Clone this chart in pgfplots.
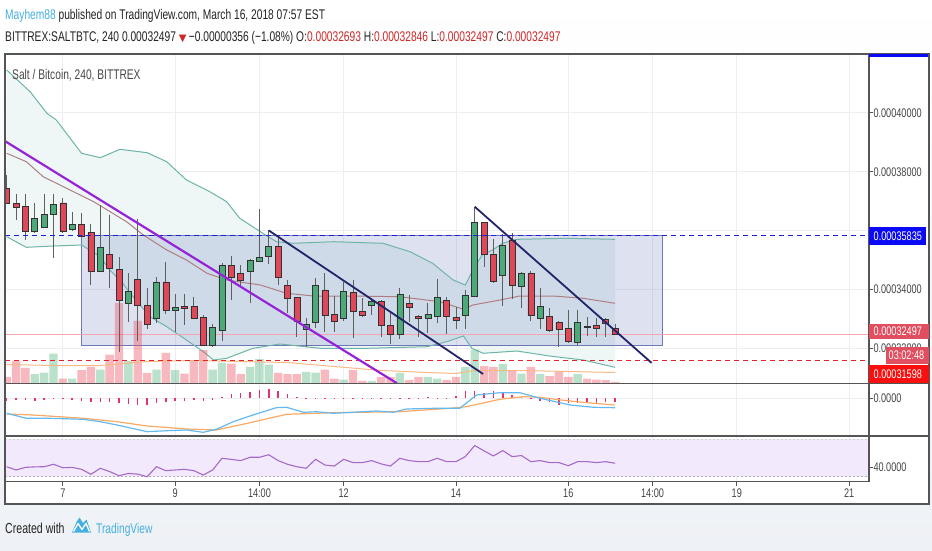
\documentclass[border=0pt]{standalone}
\usepackage{pgfplots}
\pgfplotsset{compat=1.18}
\usepackage{pgfplotstable}
\usepackage{fontspec}
\setmainfont[FakeStretch=0.73]{Liberation Sans}
\newfontfamily\symfont{DejaVu Sans}

\definecolor{bgc}{RGB}{238,241,245}
\definecolor{linec}{RGB}{85,85,85}
\definecolor{gridc}{RGB}{236,238,242}
\definecolor{tickc}{RGB}{70,70,70}
\definecolor{bandfill}{RGB}{238,247,245}
\definecolor{bandline}{RGB}{110,180,168}
\definecolor{midline}{RGB}{175,125,130}
\definecolor{rectc}{RGB}{60,80,170}
\definecolor{rectline}{RGB}{110,120,185}
\definecolor{upc}{RGB}{75,170,120}
\definecolor{downc}{RGB}{222,72,88}
\definecolor{bodyline}{RGB}{50,50,50}
\definecolor{wickc}{RGB}{95,95,95}
\definecolor{volup}{RGB}{80,180,125}
\definecolor{voldown}{RGB}{235,80,95}
\definecolor{volma}{RGB}{250,185,130}
\definecolor{purplec}{RGB}{150,35,215}
\definecolor{navyc}{RGB}{35,35,105}
\definecolor{bluedash}{RGB}{30,30,215}
\definecolor{reddash}{RGB}{225,35,45}
\definecolor{pricepink}{RGB}{245,165,175}
\definecolor{macdc}{RGB}{100,185,240}
\definecolor{signalc}{RGB}{250,170,100}
\definecolor{histc}{RGB}{230,50,105}
\definecolor{rsic}{RGB}{165,105,200}
\definecolor{rsibg}{RGB}{243,233,252}
\definecolor{boxblue}{RGB}{10,10,245}
\definecolor{boxpink}{RGB}{225,78,95}
\definecolor{boxred}{RGB}{250,15,15}
\definecolor{tvblue}{RGB}{70,175,225}
\definecolor{valred}{RGB}{205,40,40}
\definecolor{hdrc}{RGB}{35,35,35}

% OHLC of the 4h candles, price in units of 1e-5 BTC
\pgfplotstableread{
i o h l c
0 37.447 37.888 36.900 36.939
1 36.929 37.244 36.363 36.793
2 36.813 37.244 35.685 35.966
3 35.966 36.939 35.922 36.420
4 36.125 37.244 36.091 36.566
5 36.566 37.244 35.074 36.905
6 36.939 37.108 35.922 35.990
7 36.057 36.634 35.990 36.227
8 36.227 36.600 35.786 35.820
9 35.932 36.227 34.159 34.634
10 34.634 36.871 34.600 35.423
11 35.210 36.532 34.067 34.712
12 34.701 35.108 31.888 33.627
13 33.539 34.566 32.915 33.932
14 34.362 36.396 32.271 33.457
15 33.481 34.057 32.657 32.827
16 33.030 34.440 32.861 34.261
17 34.261 34.949 33.176 33.288
18 33.288 33.854 32.576 33.403
19 33.447 33.854 32.803 33.380
20 33.447 33.762 32.990 33.030
21 33.064 33.142 32.080 32.101
22 32.101 32.837 32.067 32.725
23 32.610 34.905 32.271 34.837
24 34.837 35.152 33.650 34.420
25 34.556 34.837 34.101 34.328
26 34.610 35.030 33.559 34.983
27 34.962 36.725 34.939 35.098
28 35.118 36.024 34.871 35.481
29 35.481 35.796 34.159 34.406
30 34.135 34.328 33.200 33.708
31 33.728 33.760 32.406 32.915
32 32.667 33.040 32.067 32.837
33 32.888 34.396 32.718 34.135
34 33.990 34.556 32.576 33.118
35 33.176 33.786 32.576 32.915
36 33.030 34.271 32.939 33.932
37 33.912 34.328 32.373 33.254
38 33.254 33.708 33.084 33.118
39 33.481 33.708 33.142 33.593
40 33.593 33.650 32.406 32.779
41 32.803 33.200 32.159 32.488
42 32.498 34.047 32.328 33.844
43 33.539 33.820 32.915 33.403
44 33.084 33.142 32.406 33.030
45 33.030 33.539 32.522 33.176
46 33.108 34.352 32.881 33.728
47 33.650 33.762 32.498 33.084
48 33.064 33.423 32.657 32.949
49 33.118 33.990 32.657 33.796
50 33.786 36.813 33.740 36.271
51 36.271 36.290 34.759 35.210
52 35.210 35.708 34.240 34.271
53 34.498 35.878 33.447 35.515
54 35.685 35.912 33.674 34.159
55 34.101 34.610 33.369 34.556
56 34.556 34.634 32.939 33.118
57 33.030 34.047 32.657 33.423
58 33.084 33.369 32.576 32.610
59 32.895 32.939 32.047 32.667
60 32.691 33.312 32.203 32.237
61 32.203 33.312 32.125 32.895
62 32.769 33.084 32.440 32.735
63 32.803 33.030 32.406 32.691
64 32.990 33.030 32.406 32.853
65 32.693 32.846 32.497 32.497
}\candles

\pgfplotsset{
  panelmain/.style={scale only axis, width=864pt, height=329.5pt,
    at={(5pt,166.5pt)}, anchor=south west,
    xmin=-0.182, xmax=92.126, ymin=30.820, ymax=41.990},
  tvbase/.style={axis line style={linec, line width=1pt},
    grid style={gridc, line width=0.8pt},
    tick style={linec, line width=0.8pt},
    ticklabel style={font=\fontsize{12.5}{14}\selectfont, text=tickc},
    tick align=outside, major tick length=4pt},
}

\begin{document}
\begin{tikzpicture}[x=1pt,y=1pt]
\useasboundingbox (0,0) rectangle (932,550);
\shade[top color=white, bottom color=bgc] (0,0) rectangle (932,550);
\fill[white] (5,46) rectangle (929,496);

% ---------- main price panel: grid, bands, box ----------
\begin{axis}[panelmain, tvbase,
  xtick={6,18,27,36,48,60,69,78,90}, xticklabels={}, xtick style={draw=none},
  xmajorgrids,
  ytick={32,34,36,38,40},
  yticklabels={0.00032000,0.00034000,{},0.00038000,0.00040000},
  ymajorgrids, ytick pos=right, yticklabel pos=right,
  yticklabel style={anchor=west, xshift=-3pt}]
\addplot[fill=bandfill, draw=none] coordinates {
 (0,41.447) (2.5,40.712) (4.3,39.980) (5.3,39.752) (8.0,38.624) (10.0,38.475)
 (12.1,38.759) (15.0,38.644) (17.1,38.339) (19.2,37.719) (21.7,37.322) (23.5,36.983)
 (24.9,36.420) (27.1,35.966) (28.8,35.627) (30.6,35.573) (34.9,35.627) (40.2,35.573)
 (43.1,35.288) (45.5,34.895) (47.7,34.328) (49.0,34.159) (49.8,34.668) (50.8,35.176)
 (51.9,35.346) (53.0,35.573) (54.5,35.708) (59.9,35.742) (65,35.708)
 (65,31.369) (61.6,31.616) (58.0,31.752) (54.5,31.922) (50.9,31.844) (49.7,32.013)
 (48.8,32.430) (47.0,32.237) (44.9,32.067) (38.5,32.013) (33.5,32.013) (29.2,32.159)
 (26.3,32.013) (23.5,31.674) (22.1,31.616) (21.0,31.898) (19.2,32.294) (17.1,32.745)
 (15.3,33.084) (13.5,33.762) (12.1,34.328) (11.0,34.668) (10.0,35.118) (8.0,35.515)
 (5.0,35.481) (2.1,35.437) (0,35.796)} -- cycle;
\addplot[fill=rectc, fill opacity=0.17, draw=rectline, line width=1pt]
 coordinates {(8.01,32.101) (70.1,32.101) (70.1,35.835) (8.01,35.835)} -- cycle;
\addplot[bandline, line width=1pt] coordinates {
 (0,41.447) (2.5,40.712) (4.3,39.980) (5.3,39.752) (8.0,38.624) (10.0,38.475)
 (12.1,38.759) (15.0,38.644) (17.1,38.339) (19.2,37.719) (21.7,37.322) (23.5,36.983)
 (24.9,36.420) (27.1,35.966) (28.8,35.627) (30.6,35.573) (34.9,35.627) (40.2,35.573)
 (43.1,35.288) (45.5,34.895) (47.7,34.328) (49.0,34.159) (49.8,34.668) (50.8,35.176)
 (51.9,35.346) (53.0,35.573) (54.5,35.708) (59.9,35.742) (65,35.708)};
\addplot[bandline, line width=1pt] coordinates {
 (0,35.796) (2.1,35.437) (5.0,35.481) (8.0,35.515) (10.0,35.118) (11.0,34.668)
 (12.1,34.328) (13.5,33.762) (15.3,33.084) (17.1,32.745) (19.2,32.294) (21.0,31.898)
 (22.1,31.616) (23.5,31.674) (26.3,32.013) (29.2,32.159) (33.5,32.013) (38.5,32.013)
 (44.9,32.067) (47.0,32.237) (48.8,32.430) (49.7,32.013) (50.9,31.844) (54.5,31.922)
 (58.0,31.752) (61.6,31.616) (65,31.369)};
\addplot[midline, line width=1pt] coordinates {
 (0,38.624) (2.1,38.339) (3.9,37.830) (6.4,37.437) (9.3,36.983) (12.8,36.305)
 (14.6,35.854) (17.1,35.346) (19.2,35.007) (21.4,34.556) (23.5,34.328) (27.1,34.159)
 (29.9,33.878) (32.8,33.786) (36.7,33.786) (42.0,33.762) (46.3,33.593) (48.8,33.335)
 (49.8,33.481) (52.7,33.650) (54.8,33.786) (58.4,33.786) (61.6,33.708) (65,33.539)};
\addplot[pricepink, line width=1pt] coordinates {(-0.182,32.497) (92.126,32.497)};
\end{axis}

% ---------- volume ----------
\begin{axis}[scale only axis, width=864pt, height=329.5pt,
  at={(5pt,166.5pt)}, anchor=south west, hide axis,
  xmin=-0.182, xmax=92.126, ymin=0, ymax=329.5,
  ybar, bar width=8.4pt]
\addplot[bar shift=0pt, fill=voldown, fill opacity=0.4, draw=none] coordinates {
 (0,6.7) (1,22.7) (2,15.7) (6,5) (8,13.3) (9,16.7) (11,29) (12,80.7) (14,62.7)
 (15,10.7) (17,30.7) (19,10) (20,23.3) (21,33.3) (24,20) (25,9.3) (29,10.7)
 (30,9.3) (31,9.3) (34,14) (35,5) (37,13.3) (38,2.7) (40,6.7) (41,6.7) (43,3.3)
 (44,6.7) (47,3.3) (48,6.7) (51,17.3) (52,16.7) (54,13.3) (56,16.7) (58,7.3)
 (59,11.7) (60,6.7) (62,5) (63,4) (64,3.3) (65,1.7)};
\addplot[bar shift=0pt, fill=volup, fill opacity=0.4, draw=none] coordinates {
 (3,9.3) (4,11) (5,30) (7,5) (10,14) (13,22.7) (16,14) (18,13.3) (22,14) (23,21)
 (26,16.7) (27,24.3) (28,19) (32,11.7) (33,11) (36,4) (39,2.7) (42,10.7) (45,6.7)
 (46,5) (49,16.7) (50,34) (53,19.3) (55,10) (57,9.3) (61,9.3)};
\addplot[sharp plot, volma, line width=1pt] coordinates {
 (0,19) (5,18) (10,18) (15,22) (20,23) (25,22) (30,21) (35,17) (40,13) (45,11)
 (48,10) (50,13) (55,13) (60,12) (65,11)};
\end{axis}

% ---------- wicks ----------
\begin{axis}[panelmain, hide axis]
\addplot[draw=none, no markers,
  error bars/.cd, y dir=both, y explicit, error mark=none,
  error bar style={draw=wickc, solid, line width=0.9pt}]
  table[x=i, y expr={(\thisrow{h}+\thisrow{l})/2},
        y error expr={(\thisrow{h}-\thisrow{l})/2}] {\candles};
\end{axis}

% ---------- bodies ----------
\begin{axis}[panelmain, hide axis, ybar stacked, bar width=6pt]
\addplot[draw=none, fill=none] table[x=i, y expr={min(\thisrow{o},\thisrow{c})}] {\candles};
\addplot[fill=upc, draw=bodyline, line width=0.6pt] table[x=i, y expr={max(\thisrow{c}-\thisrow{o},0)}] {\candles};
\addplot[fill=downc, draw=bodyline, line width=0.6pt] table[x=i, y expr={max(\thisrow{o}-\thisrow{c},0)}] {\candles};
\end{axis}

% ---------- drawings ----------
\begin{axis}[panelmain, hide axis]
\addplot[bluedash, line width=1.4pt, dash pattern=on 5pt off 4pt] coordinates {(-0.182,35.835) (92.126,35.835)};
\addplot[reddash, line width=1.4pt, dash pattern=on 5pt off 4pt] coordinates {(-0.182,31.598) (92.126,31.598)};
\addplot[purplec, line width=2.2pt] coordinates {(-0.18,39.036) (41.7,30.827)};
\addplot[navyc, line width=1.8pt] coordinates {(28.0,36.007) (50.9,31.142)};
\addplot[navyc, line width=1.8pt] coordinates {(50.0,36.813) (68.9,31.518)};
\end{axis}

% ---------- MACD ----------
\begin{axis}[tvbase, scale only axis, width=864pt, height=52.5pt,
  at={(5pt,114pt)}, anchor=south west,
  xmin=-0.182, xmax=92.126, ymin=-377, ymax=148,
  xtick={6,18,27,36,48,60,69,78,90}, xticklabels={}, xtick style={draw=none},
  xmajorgrids, ytick={0}, yticklabels={0.0000}, ymajorgrids,
  ytick pos=right, yticklabel pos=right,
  yticklabel style={anchor=west, xshift=-3pt}]
\addplot[ycomb, histc, line width=1.5pt, mark=none] coordinates {
 (0,-23) (1,-20) (2,-20) (3,-30) (4,-20) (5,-10) (6,-10) (7,-15) (8,-25) (9,-35)
 (10,-40) (11,-40) (12,-50) (13,-60) (14,-65) (15,-70) (16,-50) (17,-40) (18,-30)
 (19,-25) (20,-20) (21,-25) (22,-15) (23,15) (24,40) (25,50) (26,65) (27,80) (28,90)
 (29,75) (30,45) (31,15) (32,7) (33,5) (34,5) (35,3) (36,5) (37,3) (38,3) (39,5)
 (40,3) (41,3) (42,3) (43,3) (44,3) (45,15) (46,3) (47,3) (48,20) (49,70) (50,70)
 (51,55) (52,70) (53,50) (54,30) (55,10) (56,-10) (57,-30) (58,-40) (59,-65)
 (60,-50) (61,-50) (62,-50) (63,-45) (64,-35) (65,-35)};
\addplot[signalc, line width=1.2pt] coordinates {
 (0,-157) (2.8,-167) (8.2,-200) (11.8,-234) (15,-277) (19.2,-307) (22.4,-317)
 (26,-244) (29.9,-160) (34.9,-144) (42,-134) (47.4,-100) (49.1,-84) (52.7,-10)
 (55.2,16) (57,10) (59.8,-24) (62.7,-50) (65,-67)};
\addplot[macdc, line width=1.2pt] coordinates {
 (0,-150) (2.1,-200) (4.6,-200) (8.2,-210) (10,-234) (11.8,-267) (15,-334)
 (17.1,-324) (19.2,-317) (21,-340) (22.4,-310) (24.2,-234) (26.3,-167) (28.8,-94)
 (29.9,-90) (31.7,-140) (33.1,-134) (34.9,-150) (39.5,-127) (41.3,-140) (42.7,-107)
 (45.6,-100) (48.4,-100) (50.2,33) (52.7,56) (54.8,56) (57,0) (60.2,-67) (62.7,-90)
 (65,-94)};
\end{axis}

% ---------- RSI ----------
\begin{axis}[tvbase, scale only axis, width=864pt, height=45.5pt,
  at={(5pt,68.5pt)}, anchor=south west,
  xmin=-0.182, xmax=92.126, ymin=24.9, ymax=73.5,
  xtick={6,18,27,36,48,60,69,78,90},
  xticklabels={7,9,14:00,12,14,16,14:00,19,21},
  xtick pos=left, xmajorgrids,
  ytick={40}, yticklabels={40.0000},
  ytick pos=right, yticklabel pos=right,
  yticklabel style={anchor=west, xshift=-3pt}]
\addplot[fill=rsibg, draw=none] coordinates {(-0.182,30) (92.126,30) (92.126,70) (-0.182,70)} -- cycle;
\addplot[black!30, line width=0.8pt, dash pattern=on 2pt off 2pt] coordinates {(-0.182,30) (92.126,30)};
\addplot[black!18, line width=0.8pt, dash pattern=on 2pt off 2pt] coordinates {(-0.182,70) (92.126,70)};
\addplot[rsic, line width=1.1pt] coordinates {
 (0,40.7) (1,37.2) (2,40) (3,40.5) (4,40.7) (5,43.3) (6,39.6) (7,40) (8,37.9)
 (9,32.6) (10,39) (11,35.5) (12,31.1) (13,33.5) (14,32.8) (15,30) (16,40.7)
 (17,36.5) (18,37.2) (19,37.9) (20,36.5) (21,31.8) (22,37.2) (23,49.7) (24,48.5)
 (25,47.2) (26,50.8) (27,50.8) (28,53.5) (29,47.2) (30,43.3) (31,40.7) (32,39)
 (33,48.6) (34,42.5) (35,41.4) (36,48.6) (37,45.1) (38,45.1) (39,47.2) (40,43.7)
 (41,41.4) (42,49.7) (43,47.2) (44,46.1) (45,46.1) (46,49.7) (47,46.1) (48,46.1)
 (49,51.5) (50,63.3) (51,57.6) (52,52.2) (53,57.9) (54,51.5) (55,52.6) (56,46.1)
 (57,47.2) (58,45.1) (59,45.1) (60,41.8) (61,46.1) (62,46.1) (63,45.1) (64,46.1)
 (65,44.4)};
\end{axis}

% ---------- frame and separators ----------
\draw[linec, line width=1.2pt] (5,46) rectangle (929,496);
\draw[linec, line width=1.2pt] (869,68.5) -- (869,496);
\draw[linec, line width=1.4pt] (5,166.5) -- (929,166.5);
\draw[linec, line width=1.4pt] (5,114) -- (929,114);
\draw[linec, line width=1.2pt] (5,68.5) -- (869,68.5);
\fill[boxblue] (869,492.5) rectangle (928,496);

% ---------- price-scale labels ----------
\fill[boxblue] (869,305) rectangle (926,323);
\node[anchor=west, inner sep=0pt, text=white, font=\fontsize{12.5}{14}\selectfont] at (873.5,314) {0.00035835};
\fill[boxpink] (869,211.5) rectangle (929,226);
\node[anchor=west, inner sep=0pt, text=white, font=\fontsize{12.5}{14}\selectfont] at (873.5,218.7) {0.00032497};
\fill[boxpink] (886,186) rectangle (929,203.5);
\node[anchor=west, inner sep=0pt, text=white, font=\fontsize{12.5}{14}\selectfont] at (888.5,194.7) {03:02:48};
\fill[boxred] (869,166.7) rectangle (929,185);
\node[anchor=west, inner sep=0pt, text=white, font=\fontsize{12.5}{14}\selectfont] at (873.5,175.8) {0.00031598};

% ---------- texts ----------
\node[anchor=west, inner sep=0pt, text=black!72, font=\fontsize{14}{16}\selectfont] at (12,475) {Salt / Bitcoin, 240, BITTREX};

\node[anchor=base west, inner sep=0pt, font=\fontsize{14}{16}\selectfont] at (5,530.5)
 {\textcolor{tvblue}{Mayhem88} \textcolor{hdrc}{published on TradingView.com, March 16, 2018 07:57 EST}};
\node[anchor=base west, inner sep=0pt, font=\fontsize{14}{16}\selectfont, text=hdrc] at (5,508.3)
 {BITTREX:SALTBTC, 240 0.00032497 {\symfont\fontsize{10}{12}\selectfont\textcolor{valred}{▼}}\,−0.00000356 (−1.08\%) O:\textcolor{valred}{0.00032693} H:\textcolor{valred}{0.00032846} L:\textcolor{valred}{0.00032497} C:\textcolor{valred}{0.00032497}};

\node[anchor=base west, inner sep=0pt, font=\fontsize{14.5}{16}\selectfont, text=hdrc] at (5,17) {Created with};
\fill[tvblue] (72,17.5) -- (76.5,28) -- (79.5,32.5) -- (83,27) -- (86.5,30.5) -- (91,17.5) -- cycle;
\draw[white, line width=1.3pt, line join=round] (73.5,18.5) -- (78,26.5) -- (82,20.5) -- (86,26.5) -- (89.5,18.5);
\node[anchor=base west, inner sep=0pt, font=\fontsize{14}{16}\selectfont, text=tvblue] at (96,17) {TradingView};
\end{tikzpicture}
\end{document}
